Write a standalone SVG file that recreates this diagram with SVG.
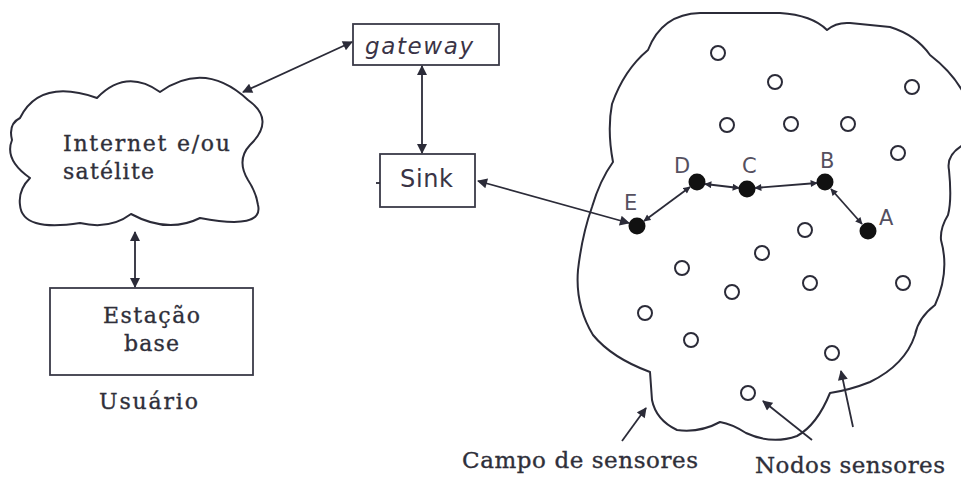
<svg xmlns="http://www.w3.org/2000/svg" width="961" height="481" viewBox="0 0 961 481">
<defs>
<style>
.ln{stroke:#2b2b38;stroke-width:1.8;fill:none}
.cl{stroke:#2b2b38;stroke-width:2;fill:#fff;stroke-linejoin:round}
.bx{stroke:#3a3a48;stroke-width:1.8;fill:#fff}
.sr{font-family:"DejaVu Serif","Liberation Serif",serif;fill:#2f2f3a;stroke:#2f2f3a;stroke-width:0.35}
.ss{font-family:"DejaVu Sans","Liberation Sans",sans-serif;fill:#3a3446}
.lb{font-family:"DejaVu Sans","Liberation Sans",sans-serif;fill:#55505f;font-size:21px}
.on{fill:#fff;stroke:#2b2b38;stroke-width:2}
.fn{fill:#111}
</style>
<marker id="ah" viewBox="0 0 10 10" refX="9" refY="5" markerWidth="11" markerHeight="10" markerUnits="userSpaceOnUse" orient="auto-start-reverse">
<path d="M0,0 L10,5 L0,10 Z" fill="#2b2b38"/>
</marker>
<marker id="sh" viewBox="0 0 10 10" refX="9" refY="5" markerWidth="8" markerHeight="7" markerUnits="userSpaceOnUse" orient="auto-start-reverse">
<path d="M0,0 L10,5 L0,10 Z" fill="#2b2b38"/>
</marker>
</defs>
<rect width="961" height="481" fill="#fff"/>

<g id="internet">
<path class="cl" d="M20 118 Q40 78 97 98 Q126 68 160 92 Q205 60 248 100 Q276 120 250 145 Q236 160 248 180 Q256 192 258 205 Q264 230 200 218 Q168 234 131 214 Q110 230 80 223 Q22 232 20 205 Q18 190 30 178 Q4 160 12 140 Q8 124 20 118 Z"/>
<text class="sr" font-size="22" x="63" y="151" textLength="167" lengthAdjust="spacing">Internet e/ou</text>
<text class="sr" font-size="22" x="63" y="179" textLength="91" lengthAdjust="spacing">satélite</text>
</g>

<g id="gateway">
<rect class="bx" x="353" y="24" width="146" height="41"/>
<text class="ss" font-size="23" font-style="italic" x="365" y="54" textLength="108" lengthAdjust="spacing">gateway</text>
</g>

<g id="sink">
<rect class="bx" x="380" y="154" width="95" height="53"/>
<line class="ln" x1="376" y1="183" x2="380" y2="183"/>
<text class="ss" font-size="24" x="400" y="187" textLength="53" lengthAdjust="spacing">Sink</text>
</g>

<g id="estacao">
<rect class="bx" x="50" y="288" width="203" height="87"/>
<text class="sr" font-size="22" x="103" y="323" textLength="97" lengthAdjust="spacing">Estação</text>
<text class="sr" font-size="22" x="124" y="351" textLength="55" lengthAdjust="spacing">base</text>
</g>

<g id="usuario">
<text class="sr" font-size="22" x="99" y="409" textLength="99" lengthAdjust="spacing">Usuário</text>
</g>

<g id="campo">
<path class="cl" fill="none" d="M648 50 Q662 14 700 13 L780 13 Q812 15 827 30 Q836 22 850 23 L890 27 Q916 35 930 55 Q952 72 963 92 L963 145 Q946 155 949 170 Q952 200 948 215 Q940 228 941 240 Q950 272 935 305 Q918 318 915 335 Q905 365 870 382 Q850 390 830 393 Q817 425 797 436 Q772 445 746 433 Q732 424 720 422 Q700 433 677 430 Q656 420 652 400 L650 372 Q612 358 593 335 Q575 305 578 270 Q582 235 592 207 Q600 180 613 162 Q607 130 612 104 Q624 70 648 50 Z"/>
<text class="sr" font-size="23" x="462" y="468" textLength="236" lengthAdjust="spacing">Campo de sensores</text>
</g>

<g id="nodos">
<circle class="on" cx="718" cy="53" r="7"/>
<circle class="on" cx="775" cy="82" r="7"/>
<circle class="on" cx="912" cy="87" r="7"/>
<circle class="on" cx="727" cy="125" r="7"/>
<circle class="on" cx="791" cy="124" r="7"/>
<circle class="on" cx="848" cy="124" r="7"/>
<circle class="on" cx="898" cy="153" r="7"/>
<circle class="on" cx="805" cy="230" r="7"/>
<circle class="on" cx="762" cy="253" r="7"/>
<circle class="on" cx="682" cy="268" r="7"/>
<circle class="on" cx="810" cy="283" r="7"/>
<circle class="on" cx="903" cy="283" r="7"/>
<circle class="on" cx="732" cy="292" r="7"/>
<circle class="on" cx="645" cy="313" r="7"/>
<circle class="on" cx="691" cy="340" r="7"/>
<circle class="on" cx="832" cy="353" r="7"/>
<circle class="on" cx="748" cy="393" r="7"/>
<text class="sr" font-size="23" x="755" y="473" textLength="190" lengthAdjust="spacing">Nodos sensores</text>
</g>

<g id="node-E"><circle class="fn" cx="637" cy="226" r="8.5"/><text class="lb" x="624" y="210">E</text></g>
<g id="node-D"><circle class="fn" cx="697" cy="182" r="8.5"/><text class="lb" x="674" y="173">D</text></g>
<g id="node-C"><circle class="fn" cx="747" cy="189" r="8.5"/><text class="lb" x="742" y="173">C</text></g>
<g id="node-B"><circle class="fn" cx="825" cy="182" r="8.5"/><text class="lb" x="820" y="168">B</text></g>
<g id="node-A"><circle class="fn" cx="868" cy="231" r="8.5"/><text class="lb" x="879" y="225">A</text></g>

<g id="connectors">
<line class="ln" x1="243" y1="92" x2="352" y2="42" marker-start="url(#ah)" marker-end="url(#ah)"/>
<line class="ln" x1="422" y1="66" x2="422" y2="153" marker-start="url(#ah)" marker-end="url(#ah)"/>
<line class="ln" x1="135" y1="232" x2="135" y2="287" marker-start="url(#ah)" marker-end="url(#ah)"/>
<line class="ln" x1="478" y1="181" x2="629" y2="223" marker-start="url(#ah)" marker-end="url(#ah)"/>
<line class="ln" x1="644" y1="221" x2="690" y2="187" marker-start="url(#sh)" marker-end="url(#sh)"/>
<line class="ln" x1="705" y1="184" x2="739" y2="188" marker-start="url(#sh)" marker-end="url(#sh)"/>
<line class="ln" x1="755" y1="188" x2="817" y2="183" marker-start="url(#sh)" marker-end="url(#sh)"/>
<line class="ln" x1="831" y1="189" x2="862" y2="224" marker-start="url(#sh)" marker-end="url(#sh)"/>
<line class="ln" x1="622" y1="441" x2="646" y2="408" marker-end="url(#ah)"/>
<line class="ln" x1="812" y1="440" x2="763" y2="401" marker-end="url(#ah)"/>
<line class="ln" x1="853" y1="427" x2="841" y2="371" marker-end="url(#ah)"/>
</g>
</svg>
